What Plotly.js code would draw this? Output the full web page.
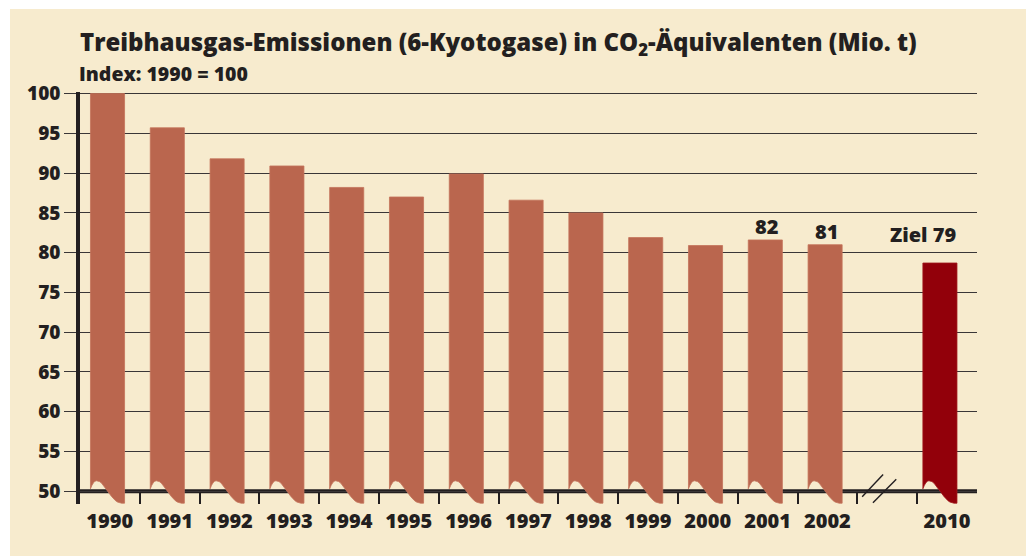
<!DOCTYPE html>
<html><head><meta charset="utf-8">
<script src="https://cdn.plot.ly/plotly-3.0.1.min.js"></script>
<style>
html,body{margin:0;padding:0;background:#fff;overflow:hidden;width:1026px;height:557px}
#chart{position:absolute;left:10px;top:9px;width:1016px;height:547px}
</style></head>
<body><div id="chart"></div>
<script>
// ---- data ----
const categories = ['1990','1991','1992','1993','1994','1995','1996','1997','1998','1999','2000','2001','2002','','2010'];
const values     = [100, 95.7, 91.8, 90.9, 88.2, 87.0, 89.9, 86.6, 85.0, 81.9, 80.9, 81.6, 81.0, null, 78.7];
const valueLabels= ['', '', '', '', '', '', '', '', '', '', '', '82', '81', '', 'Ziel 79'];
const targetCategory = '2010';
const yTickValues = [50, 55, 60, 65, 70, 75, 80, 85, 90, 95, 100];

// ---- styling ----
const FONT = 'Open Sans, Noto Sans, sans-serif';
const W = 800;
const INK = '#231F20';
const BAR = '#BA664E', BAR_EDGE = '#C4745B';
const TARGET = '#92000A', TARGET_EDGE = '#A0161C';
const BG = '#F7EBCE';
const axisBase = 50;
const halfWidth = 0.285;
// wavy "flag" bottom of each bar: [fraction of bar width, offset from axis base in y units]
const waveProfile = [[0,0.31],[0.044,0.75],[0.088,1.07],[0.132,1.25],[0.176,1.32],[0.22,1.31],[0.265,1.22],[0.324,1.03],[0.382,0.75],[0.441,0.42],[0.5,0.06],[0.559,-0.31],[0.618,-0.65],[0.676,-0.94],[0.735,-1.18],[0.794,-1.36],[0.853,-1.46],[0.912,-1.5],[1,-1.5]];

const traces = [];
const annotations = [];
categories.forEach((cat, i) => {
  const v = values[i];
  if (v === null) return;
  const isTarget = cat === targetCategory;
  const cx = i + (isTarget ? -0.12 : -0.04);
  const left = cx - halfWidth, right = cx + halfWidth;
  const xs = [left, left, right], ys = [axisBase + waveProfile[0][1], v, v];
  for (let k = waveProfile.length - 1; k >= 0; k--) {
    xs.push(left + waveProfile[k][0] * (right - left));
    ys.push(axisBase + waveProfile[k][1]);
  }
  traces.push({
    type: 'scatter', mode: 'lines', x: xs, y: ys, fill: 'toself',
    fillcolor: isTarget ? TARGET : BAR,
    line: {color: isTarget ? TARGET_EDGE : BAR_EDGE, width: 0.8},
    name: cat, hoveron: 'fills', text: cat + ': ' + v, hoverinfo: 'text', showlegend: false
  });
  if (valueLabels[i]) {
    annotations.push({
      x: i, y: v, xref: 'x', yref: 'y', text: valueLabels[i], showarrow: false,
      yanchor: 'bottom', xanchor: 'center',
      xshift: isTarget ? -24 : -1, yshift: isTarget ? 13 : -2,
      font: {family: FONT, size: 20, color: INK, weight: W}
    });
  }
});

annotations.push({
  xref: 'paper', yref: 'paper', x: -0.003, y: 1.046, xanchor: 'left', yanchor: 'middle',
  text: 'Index: 1990 = 100', showarrow: false,
  font: {family: FONT, size: 19.5, color: INK, weight: W}
});

// boundary ticks between slots; labels shifted back to slot centres
const tickVals = categories.map((c, i) => i + 0.5);

const breakAt = categories.indexOf('');
const shapes = [
  {type: 'line', xref: 'paper', x0: 0, x1: 1, yref: 'y', y0: axisBase, y1: axisBase,
   line: {color: INK, width: 4}, layer: 'between'},
  {type: 'line', xref: 'x', yref: 'y', x0: breakAt - 0.42, y0: 49.3, x1: breakAt - 0.07, y1: 52.1,
   line: {color: INK, width: 1.4}},
  {type: 'line', xref: 'x', yref: 'y', x0: breakAt - 0.24, y0: 48.55, x1: breakAt + 0.15, y1: 51.5,
   line: {color: INK, width: 1.4}}
];

const layout = {
  width: 1016, height: 547,
  margin: {l: 70, r: 49, t: 83, b: 52},
  paper_bgcolor: BG, plot_bgcolor: BG,
  title: {
    text: 'Treibhausgas-Emissionen (6-Kyotogase) in CO<sub>2</sub>-Äquivalenten (Mio. t)',
    x: 0, xref: 'paper', xanchor: 'left', y: 0.938, yref: 'container', yanchor: 'middle',
    font: {family: FONT, size: 24, color: INK, weight: W}
  },
  xaxis: {
    range: [-0.5, categories.length - 0.5], showgrid: false, zeroline: false, showline: false,
    tickmode: 'array', tickvals: tickVals, ticktext: categories,
    ticks: 'inside', ticklen: 12, tickwidth: 1.8, tickcolor: INK,
    ticklabelshift: -30, ticklabelstandoff: 3,
    tickfont: {family: FONT, size: 20, color: INK, weight: W}, fixedrange: true
  },
  yaxis: {
    range: [48.4, 100.2], tickmode: 'array', tickvals: yTickValues,
    showgrid: true, gridcolor: '#3A3637', gridwidth: 1.4, zeroline: false,
    showline: true, linecolor: INK, linewidth: 3.5,
    ticks: 'outside', ticklen: 12, tickwidth: 1.4, tickcolor: '#3A3637',
    tickfont: {family: FONT, size: 19, color: INK, weight: W}, fixedrange: true
  },
  shapes: shapes,
  annotations: annotations,
  hovermode: 'closest',
  showlegend: false
};

Plotly.newPlot('chart', traces, layout, {displayModeBar: false});
</script>
</body></html>
